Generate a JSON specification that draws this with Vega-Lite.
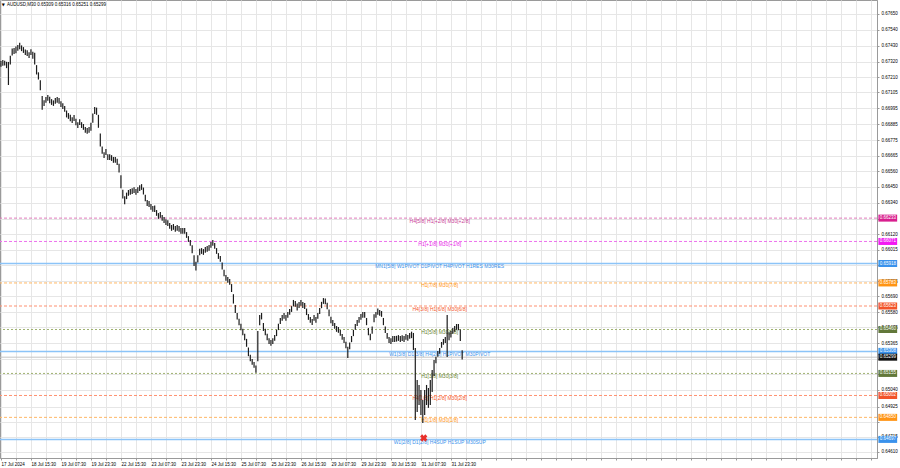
{
"$schema": "https://vega.github.io/schema/vega-lite/v6.json",
"width": 877, "height": 458,
"autosize": "none",
"padding": {"left": 0, "top": 0, "right": 23, "bottom": 10},
"background": "#ffffff",
"config": {"view": {"stroke": "#9a9a9a", "strokeWidth": 1}, "font": "Liberation Sans"},
"resolve": {"scale": {"color": "independent"}},
"datasets": {
"bars": [
{"t":0,"h":0.67323,"l":0.67283},{"t":2,"h":0.6733,"l":0.6729},{"t":4,"h":0.67326,"l":0.67292},{"t":6,"h":0.67318,"l":0.67274},{"t":8,"h":0.67317,"l":0.67157},
{"t":10,"h":0.6736,"l":0.673},{"t":12,"h":0.6741,"l":0.67362},{"t":14,"h":0.67413,"l":0.67373},{"t":16,"h":0.67424,"l":0.67378},{"t":18,"h":0.67434,"l":0.67394},
{"t":20,"h":0.6745,"l":0.67405},{"t":22,"h":0.67432,"l":0.67392},{"t":24,"h":0.6742,"l":0.6738},{"t":26,"h":0.67404,"l":0.67366},{"t":28,"h":0.67399,"l":0.67359},
{"t":30,"h":0.67385,"l":0.67345},{"t":32,"h":0.67406,"l":0.67366},{"t":34,"h":0.67388,"l":0.6734},{"t":36,"h":0.6738,"l":0.673},{"t":38,"h":0.67295,"l":0.6723},
{"t":40,"h":0.67245,"l":0.67195},{"t":42,"h":0.6719,"l":0.6712},{"t":44,"h":0.6708,"l":0.66985},{"t":46,"h":0.67052,"l":0.67012},{"t":48,"h":0.67073,"l":0.67033},
{"t":50,"h":0.67087,"l":0.67047},{"t":52,"h":0.67075,"l":0.67031},{"t":54,"h":0.67059,"l":0.67019},{"t":56,"h":0.6705,"l":0.67012},{"t":58,"h":0.67066,"l":0.67026},
{"t":60,"h":0.67073,"l":0.67033},{"t":62,"h":0.67066,"l":0.67026},{"t":64,"h":0.67045,"l":0.67005},{"t":66,"h":0.67031,"l":0.66991},{"t":68,"h":0.67011,"l":0.66971},
{"t":70,"h":0.6698,"l":0.66932},{"t":72,"h":0.66962,"l":0.66922},{"t":74,"h":0.6695,"l":0.66906},{"t":76,"h":0.66934,"l":0.66894},{"t":78,"h":0.66948,"l":0.66908},
{"t":80,"h":0.66922,"l":0.66878},{"t":82,"h":0.66899,"l":0.66859},{"t":84,"h":0.6692,"l":0.6688},{"t":86,"h":0.66899,"l":0.66859},{"t":88,"h":0.66886,"l":0.66846},
{"t":90,"h":0.66865,"l":0.66825},{"t":92,"h":0.66858,"l":0.66818},{"t":94,"h":0.66865,"l":0.66825},{"t":96,"h":0.66895,"l":0.6684},{"t":98,"h":0.6696,"l":0.66895},
{"t":100,"h":0.67004,"l":0.66955},{"t":102,"h":0.67,"l":0.6695},{"t":104,"h":0.6695,"l":0.6686},{"t":106,"h":0.6682,"l":0.6673},{"t":108,"h":0.6673,"l":0.6668},
{"t":110,"h":0.66691,"l":0.66651},{"t":112,"h":0.66712,"l":0.66672},{"t":114,"h":0.66677,"l":0.66637},{"t":116,"h":0.66677,"l":0.66637},{"t":118,"h":0.6667,"l":0.6663},
{"t":120,"h":0.66657,"l":0.66617},{"t":122,"h":0.66657,"l":0.66617},{"t":124,"h":0.66645,"l":0.66601},{"t":126,"h":0.6661,"l":0.6655},{"t":128,"h":0.6653,"l":0.6644},
{"t":130,"h":0.6643,"l":0.6637},{"t":132,"h":0.66385,"l":0.6633},{"t":134,"h":0.6641,"l":0.66365},{"t":136,"h":0.66428,"l":0.66388},{"t":138,"h":0.66435,"l":0.66395},
{"t":140,"h":0.66441,"l":0.66401},{"t":142,"h":0.66448,"l":0.66408},{"t":144,"h":0.66435,"l":0.66395},{"t":146,"h":0.66448,"l":0.66408},{"t":148,"h":0.66462,"l":0.66422},
{"t":150,"h":0.66469,"l":0.66429},{"t":152,"h":0.66445,"l":0.66397},{"t":154,"h":0.66395,"l":0.6635},{"t":156,"h":0.66358,"l":0.66318},{"t":158,"h":0.66351,"l":0.66311},
{"t":160,"h":0.66331,"l":0.66291},{"t":162,"h":0.66317,"l":0.66277},{"t":164,"h":0.6632,"l":0.66275},{"t":166,"h":0.66289,"l":0.66249},{"t":168,"h":0.66268,"l":0.66228},
{"t":170,"h":0.66275,"l":0.66235},{"t":172,"h":0.66254,"l":0.66214},{"t":174,"h":0.6624,"l":0.662},{"t":176,"h":0.66226,"l":0.66186},{"t":178,"h":0.66219,"l":0.66179},
{"t":180,"h":0.66199,"l":0.66159},{"t":182,"h":0.66185,"l":0.66145},{"t":184,"h":0.66192,"l":0.66152},{"t":186,"h":0.66178,"l":0.66138},{"t":188,"h":0.66185,"l":0.66145},
{"t":190,"h":0.66178,"l":0.66138},{"t":192,"h":0.66164,"l":0.66124},{"t":194,"h":0.66164,"l":0.66124},{"t":196,"h":0.66164,"l":0.66124},{"t":198,"h":0.66136,"l":0.66096},
{"t":200,"h":0.66108,"l":0.66068},{"t":202,"h":0.66081,"l":0.66041},{"t":204,"h":0.66045,"l":0.6599},{"t":206,"h":0.65975,"l":0.659},{"t":208,"h":0.6593,"l":0.6587},
{"t":210,"h":0.65975,"l":0.65925},{"t":212,"h":0.6602,"l":0.65975},{"t":214,"h":0.66025,"l":0.65985},{"t":216,"h":0.66018,"l":0.65978},{"t":218,"h":0.66032,"l":0.65992},
{"t":220,"h":0.66039,"l":0.65999},{"t":222,"h":0.66046,"l":0.66006},{"t":224,"h":0.66067,"l":0.66027},{"t":226,"h":0.66081,"l":0.66041},{"t":228,"h":0.6606,"l":0.6602},
{"t":230,"h":0.66025,"l":0.65985},{"t":232,"h":0.6599,"l":0.6595},{"t":234,"h":0.6597,"l":0.6593},{"t":236,"h":0.65925,"l":0.65877},{"t":238,"h":0.65875,"l":0.6583},
{"t":240,"h":0.65838,"l":0.65798},{"t":242,"h":0.65824,"l":0.65784},{"t":244,"h":0.6581,"l":0.6577},{"t":246,"h":0.65775,"l":0.6572},{"t":248,"h":0.65705,"l":0.6564},
{"t":250,"h":0.6563,"l":0.65575},{"t":252,"h":0.65575,"l":0.6553},{"t":254,"h":0.65535,"l":0.6549},{"t":256,"h":0.655,"l":0.65455},{"t":258,"h":0.65465,"l":0.6542},
{"t":260,"h":0.6543,"l":0.65385},{"t":262,"h":0.65395,"l":0.6534},{"t":264,"h":0.65335,"l":0.65275},{"t":266,"h":0.65285,"l":0.6524},{"t":268,"h":0.65255,"l":0.65215},
{"t":270,"h":0.65235,"l":0.65195},{"t":272,"h":0.6521,"l":0.6516},{"t":274,"h":0.6545,"l":0.6524},{"t":276,"h":0.6556,"l":0.6549},{"t":278,"h":0.65575,"l":0.6553},
{"t":280,"h":0.65505,"l":0.6545},{"t":282,"h":0.65465,"l":0.6542},{"t":284,"h":0.6543,"l":0.65385},{"t":286,"h":0.654,"l":0.6536},{"t":288,"h":0.65387,"l":0.65347},
{"t":290,"h":0.654,"l":0.6536},{"t":292,"h":0.65421,"l":0.65381},{"t":294,"h":0.65458,"l":0.65414},{"t":296,"h":0.655,"l":0.65456},{"t":298,"h":0.6554,"l":0.65498},
{"t":300,"h":0.6556,"l":0.6552},{"t":302,"h":0.65574,"l":0.65534},{"t":304,"h":0.6556,"l":0.6552},{"t":306,"h":0.65581,"l":0.65541},{"t":308,"h":0.65602,"l":0.65562},
{"t":310,"h":0.65622,"l":0.65582},{"t":312,"h":0.65665,"l":0.6562},{"t":314,"h":0.65657,"l":0.65617},{"t":316,"h":0.6564,"l":0.65592},{"t":318,"h":0.6565,"l":0.6561},
{"t":320,"h":0.65664,"l":0.65624},{"t":322,"h":0.6565,"l":0.6561},{"t":324,"h":0.65643,"l":0.65603},{"t":326,"h":0.65605,"l":0.6556},{"t":328,"h":0.65567,"l":0.65527},
{"t":330,"h":0.65546,"l":0.65506},{"t":332,"h":0.65532,"l":0.65492},{"t":334,"h":0.6556,"l":0.6552},{"t":336,"h":0.65546,"l":0.65506},{"t":338,"h":0.65574,"l":0.65534},
{"t":340,"h":0.6561,"l":0.65568},{"t":342,"h":0.65652,"l":0.65608},{"t":344,"h":0.65678,"l":0.65638},{"t":346,"h":0.65675,"l":0.65635},{"t":348,"h":0.65645,"l":0.656},
{"t":350,"h":0.65598,"l":0.65552},{"t":352,"h":0.65548,"l":0.65504},{"t":354,"h":0.65525,"l":0.65485},{"t":356,"h":0.65505,"l":0.65465},{"t":358,"h":0.65484,"l":0.65444},
{"t":360,"h":0.65477,"l":0.65437},{"t":362,"h":0.65456,"l":0.65416},{"t":364,"h":0.65428,"l":0.65388},{"t":366,"h":0.65407,"l":0.65367},{"t":368,"h":0.65375,"l":0.6533},
{"t":370,"h":0.6534,"l":0.65262},{"t":372,"h":0.6537,"l":0.65322},{"t":374,"h":0.65415,"l":0.65372},{"t":376,"h":0.65458,"l":0.65414},{"t":378,"h":0.65498,"l":0.65458},
{"t":380,"h":0.65525,"l":0.65485},{"t":382,"h":0.65546,"l":0.65506},{"t":384,"h":0.65567,"l":0.65527},{"t":386,"h":0.65581,"l":0.65541},{"t":388,"h":0.65581,"l":0.65541},
{"t":390,"h":0.6554,"l":0.6549},{"t":392,"h":0.6547,"l":0.6542},{"t":394,"h":0.6543,"l":0.65385},{"t":396,"h":0.6548,"l":0.6543},{"t":398,"h":0.65565,"l":0.6551},
{"t":400,"h":0.65581,"l":0.65541},{"t":402,"h":0.65605,"l":0.65562},{"t":404,"h":0.65595,"l":0.65555},{"t":406,"h":0.65588,"l":0.65548},{"t":408,"h":0.6554,"l":0.6549},
{"t":410,"h":0.6548,"l":0.65435},{"t":412,"h":0.65435,"l":0.65395},{"t":414,"h":0.65407,"l":0.65367},{"t":416,"h":0.654,"l":0.6536},{"t":418,"h":0.65414,"l":0.65374},
{"t":420,"h":0.65414,"l":0.65374},{"t":422,"h":0.65416,"l":0.65376},{"t":424,"h":0.65421,"l":0.65381},{"t":426,"h":0.65414,"l":0.65374},{"t":428,"h":0.6542,"l":0.6538},
{"t":430,"h":0.65414,"l":0.65374},{"t":432,"h":0.65428,"l":0.65388},{"t":434,"h":0.65421,"l":0.65381},{"t":436,"h":0.65435,"l":0.65395},{"t":438,"h":0.65445,"l":0.654},
{"t":440,"h":0.65436,"l":0.65318},{"t":442,"h":0.65332,"l":0.64832},{"t":444,"h":0.6511,"l":0.64888},{"t":446,"h":0.65075,"l":0.64936},{"t":448,"h":0.6504,"l":0.64867},
{"t":450,"h":0.64971,"l":0.64811},{"t":452,"h":0.6504,"l":0.64867},{"t":454,"h":0.65075,"l":0.64936},{"t":456,"h":0.65054,"l":0.64916},{"t":458,"h":0.6511,"l":0.64936},
{"t":460,"h":0.65179,"l":0.65026},{"t":462,"h":0.65249,"l":0.65138},{"t":464,"h":0.6527,"l":0.65225},{"t":466,"h":0.6531,"l":0.6527},{"t":468,"h":0.65331,"l":0.65291},
{"t":470,"h":0.65373,"l":0.65333},{"t":472,"h":0.65394,"l":0.65354},{"t":474,"h":0.65407,"l":0.65367},{"t":476,"h":0.65561,"l":0.65269},{"t":478,"h":0.6544,"l":0.65385},
{"t":480,"h":0.6545,"l":0.65405},{"t":482,"h":0.6547,"l":0.6543},{"t":484,"h":0.65484,"l":0.65444},{"t":486,"h":0.65498,"l":0.65458},{"t":488,"h":0.65498,"l":0.65455},
{"t":490,"h":0.6546,"l":0.6538},{"t":492,"h":0.65316,"l":0.65251}
],
"levels": [
{"p":0.66233,"grp":"+2/8","lab":"H4[5/8] H1[+2/8] M30[+2/8]"},
{"p":0.66071,"grp":"+1/8","lab":"H1[+1/8] M30[+1/8]"},
{"p":0.65918,"grp":"8/8","lab":"MN1[5/8] W1PIVOT D1PIVOT H4PIVOT H1RES M30RES"},
{"p":0.65783,"grp":"7/8","lab":"H1[7/8] M30[7/8]"},
{"p":0.65623,"grp":"6/8","lab":"H4[3/8] H1[6/8] M30[6/8]"},
{"p":0.6546,"grp":"5/8","lab":"H1[5/8] M30[5/8]"},
{"p":0.65308,"grp":"4/8","lab":"W1[3/8] D1[3/8] H4[2/8] H1PIVOT M30PIVOT"},
{"p":0.65155,"grp":"3/8","lab":"H1[3/8] M30[3/8]"},
{"p":0.65002,"grp":"2/8","lab":"H4[1/8] H1[2/8] M30[2/8]"},
{"p":0.6485,"grp":"1/8","lab":"H1[1/8] M30[1/8]"},
{"p":0.64697,"grp":"0/8","lab":"W1[2/8] D1[2/8] H4SUP H1SUP M30SUP"}
],
"bid": [{"p":0.65299}]
},
"layer": [
{
"data": {"name": "levels"},
"transform": [{"filter": {"field": "grp", "oneOf": ["+2/8"]}}],
"mark": {"type": "rule", "color": "#e07cbc", "strokeWidth": 1, "strokeDash": [3, 2]},
"encoding": {"y": {"field": "p", "type": "quantitative"}}
},
{
"data": {"name": "levels"},
"transform": [{"filter": {"field": "grp", "oneOf": ["+1/8"]}}],
"mark": {"type": "rule", "color": "#ee70ee", "strokeWidth": 1, "strokeDash": [3, 2]},
"encoding": {"y": {"field": "p", "type": "quantitative"}}
},
{
"data": {"name": "levels"},
"transform": [{"filter": {"field": "grp", "oneOf": ["8/8", "4/8", "0/8"]}}],
"mark": {"type": "rule", "color": "#8cc4f8", "strokeWidth": 1.5},
"encoding": {"y": {"field": "p", "type": "quantitative"}}
},
{
"data": {"name": "levels"},
"transform": [{"filter": {"field": "grp", "oneOf": ["7/8", "1/8"]}}],
"mark": {"type": "rule", "color": "#ffb866", "strokeWidth": 1, "strokeDash": [3, 2]},
"encoding": {"y": {"field": "p", "type": "quantitative"}}
},
{
"data": {"name": "levels"},
"transform": [{"filter": {"field": "grp", "oneOf": ["6/8", "2/8"]}}],
"mark": {"type": "rule", "color": "#ff9070", "strokeWidth": 1, "strokeDash": [3, 2]},
"encoding": {"y": {"field": "p", "type": "quantitative"}}
},
{
"data": {"name": "levels"},
"transform": [{"filter": {"field": "grp", "oneOf": ["5/8", "3/8"]}}],
"mark": {"type": "rule", "color": "#9fb270", "strokeWidth": 1, "strokeDash": [2, 2]},
"encoding": {"y": {"field": "p", "type": "quantitative"}}
},
{
"data": {"name": "levels"},
"mark": {"type": "text", "fontSize": 5, "align": "center", "baseline": "middle", "dy": 2.5},
"encoding": {
"x": {"datum": 468, "type": "quantitative"},
"y": {"field": "p", "type": "quantitative"},
"text": {"field": "lab"},
"color": {"field": "grp", "type": "nominal", "legend": null,
"scale": {"domain": ["+2/8","+1/8","8/8","7/8","6/8","5/8","4/8","3/8","2/8","1/8","0/8"],
"range": ["#c83a96","#e81ee8","#3a92ec","#ff9414","#f5582a","#6b8530","#3a92ec","#6b8530","#f5582a","#ff9414","#3a92ec"]}}
}
},
{
"data": {"name": "bid"},
"mark": {"type": "rule", "color": "#c4c4c4", "strokeWidth": 1, "yOffset": 4.5},
"encoding": {"y": {"field": "p", "type": "quantitative"}}
},
{
"data": {"name": "bars"},
"mark": {"type": "rule", "color": "#1c1c1c", "strokeWidth": 1.2},
"encoding": {
"x": {"field": "t", "type": "quantitative",
"scale": {"domain": [-1, 934.5], "nice": false, "zero": false},
"axis": {"title": null, "orient": "bottom", "tickCount": 200,
"values": [0,16,32,48,64,80,96,112,128,144,160,176,192,208,224,240,256,272,288,304,320,336,352,368,384,400,416,432,448,464,480,496,512,528,544,560,576,592,608,624,640,656,672,688,704,720,736,752,768,784,800,816,832,848,864,880,896,912,928],
"labelExpr": "datum.value % 32 === 0 ? (['17 Jul 2024','18 Jul 15:30','19 Jul 07:30','19 Jul 23:30','22 Jul 15:30','23 Jul 07:30','23 Jul 23:30','24 Jul 15:30','25 Jul 07:30','25 Jul 23:30','26 Jul 15:30','29 Jul 07:30','29 Jul 23:30','30 Jul 15:30','31 Jul 07:30','31 Jul 23:30'][datum.value / 32] || '') : ''",
"labelAlign": "left", "labelBaseline": "top", "labelFontSize": 4.5, "labelColor": "#000000",
"labelPadding": 1, "labelOverlap": false, "labelFlush": false, "labelBound": false,
"tickSize": 2, "tickColor": "#9a9a9a", "domainColor": "#9a9a9a",
"grid": true, "gridColor": "#e6e6e6", "gridWidth": 1}},
"y": {"field": "h", "type": "quantitative",
"scale": {"domain": [0.64568, 0.67747], "nice": false, "zero": false},
"axis": {"title": null, "orient": "right", "tickCount": 200,
"values": [0.6765,0.6754,0.6743,0.6732,0.6721,0.67105,0.66995,0.66885,0.66775,0.66665,0.6656,0.6645,0.6634,0.6623,0.6612,0.66015,0.65905,0.65795,0.6569,0.6558,0.65475,0.65365,0.65255,0.6515,0.6504,0.64925,0.6482,0.64715,0.6461],
"labelExpr": "indexof([0.6623,0.65905,0.65255,0.6515,0.6482], datum.value) >= 0 ? '' : format(datum.value, '.5f')",
"labelFontSize": 4.5, "labelColor": "#000000", "labelPadding": 2,
"labelOverlap": false, "labelBound": false, "labelFlush": false,
"tickSize": 2, "tickColor": "#9a9a9a", "domainColor": "#9a9a9a",
"grid": true, "gridColor": "#e6e6e6", "gridWidth": 1}},
"y2": {"field": "l"}
}
},
{
"data": {"name": "levels"},
"mark": {"type": "rule", "strokeWidth": 7, "strokeCap": "butt"},
"encoding": {
"x": {"datum": 936, "type": "quantitative"},
"x2": {"datum": 956},
"y": {"field": "p", "type": "quantitative"},
"color": {"field": "grp", "type": "nominal", "legend": null,
"scale": {"domain": ["+2/8","+1/8","8/8","7/8","6/8","5/8","4/8","3/8","2/8","1/8","0/8"],
"range": ["#d81f8e","#f21af2","#3a92ec","#ff9414","#f2542a","#62783a","#3a92ec","#62783a","#f2542a","#ff9414","#3a92ec"]}}
}
},
{
"data": {"name": "levels"},
"mark": {"type": "text", "fontSize": 4.5, "color": "#ffffff", "align": "center", "baseline": "middle"},
"encoding": {
"x": {"datum": 946, "type": "quantitative"},
"y": {"field": "p", "type": "quantitative"},
"text": {"field": "p", "type": "quantitative", "format": ".5f"}
}
},
{
"data": {"name": "bid"},
"mark": {"type": "rule", "strokeWidth": 7, "strokeCap": "butt", "color": "#111111", "yOffset": 4.5},
"encoding": {
"x": {"datum": 936, "type": "quantitative"},
"x2": {"datum": 956},
"y": {"field": "p", "type": "quantitative"}
}
},
{
"data": {"name": "bid"},
"mark": {"type": "text", "fontSize": 4.5, "color": "#ffffff", "align": "center", "baseline": "middle", "yOffset": 4.5},
"encoding": {
"x": {"datum": 946, "type": "quantitative"},
"y": {"field": "p", "type": "quantitative"},
"text": {"field": "p", "type": "quantitative", "format": ".5f"}
}
},
{
"data": {"values": [{"lbl": "AUDUSD,M30  0.65309 0.65316 0.65251 0.65299"}]},
"mark": {"type": "text", "fontSize": 4.5, "color": "#000000", "align": "left", "baseline": "middle"},
"encoding": {
"x": {"datum": 6.5, "type": "quantitative"},
"y": {"datum": 0.67712, "type": "quantitative"},
"text": {"field": "lbl"}
}
},
{
"data": {"values": [{"lbl": "▼"}]},
"mark": {"type": "text", "fontSize": 4, "color": "#000000", "align": "center", "baseline": "middle", "font": "DejaVu Sans"},
"encoding": {
"x": {"datum": 2.5, "type": "quantitative"},
"y": {"datum": 0.67712, "type": "quantitative"},
"text": {"field": "lbl"}
}
},
{
"data": {"values": [{"t": 451, "p": 0.64707}]},
"mark": {"type": "point", "shape": "cross", "angle": 45, "filled": true, "color": "#e8302a", "size": 55, "opacity": 1},
"encoding": {
"x": {"field": "t", "type": "quantitative"},
"y": {"field": "p", "type": "quantitative"}
}
}
]
}
